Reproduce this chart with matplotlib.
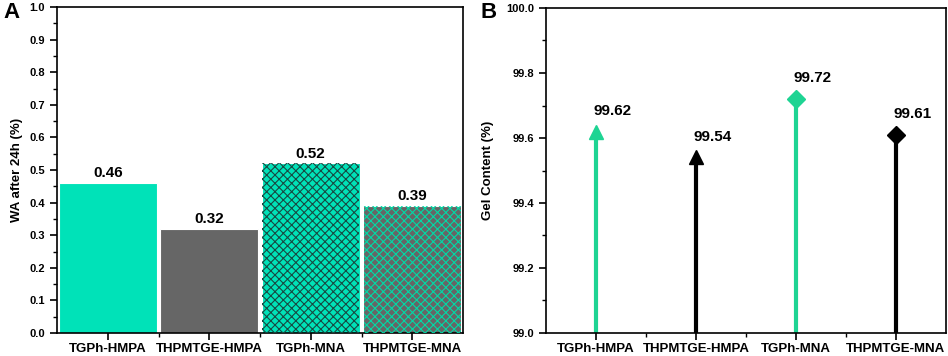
import matplotlib.pyplot as plt
import numpy as np
from matplotlib.ticker import MultipleLocator

plt.rcParams['font.family'] = ['Liberation Sans', 'DejaVu Sans']
plt.rcParams['font.weight'] = 'bold'
plt.rcParams['hatch.linewidth'] = 0.8

# Données
categories = ['TGPh-HMPA', 'THPMTGE-HMPA', 'TGPh-MNA', 'THPMTGE-MNA']
wa_24h = [0.46, 0.32, 0.52, 0.39]
gel_content = [99.62, 99.54, 99.72, 99.61]

bar_colors = ['#00e2b8', '#666666', '#00e2b8', '#666666']
bar_hatch = [None, None, 'xxxx', 'xxxx']
hatch_colors = [None, None, '#174a42', '#00d9a6']
stem_colors = ['#1ed493', '#000000', '#1ed493', '#000000']
stem_markers = ['^', '^', 'D', 'D']

fig = plt.figure(figsize=(9.48, 3.56), dpi=100)
ax1 = fig.add_axes([57/948, 23/356, 406/948, 326/356])
ax2 = fig.add_axes([546/948, 23/356, 400/948, 325/356])

x = np.arange(1, len(categories) + 1)

# Panel A : barres
for i in range(len(categories)):
    ax1.bar(x[i], wa_24h[i], width=0.97, color=bar_colors[i],
            edgecolor='white', linewidth=0.8, zorder=2)
    if bar_hatch[i]:
        ax1.bar(x[i], wa_24h[i], width=0.96, color='none',
                edgecolor=hatch_colors[i], hatch=bar_hatch[i], linewidth=0, zorder=3)
    ax1.text(x[i], wa_24h[i] + 0.008, f"{wa_24h[i]:.2f}", ha='center', va='bottom',
             fontsize=11, fontweight='bold')

ax1.set_xlim(0.5, 4.5)
ax1.set_ylim(0, 1.0)
ax1.yaxis.set_major_locator(MultipleLocator(0.1))
ax1.yaxis.set_minor_locator(MultipleLocator(0.05))
ax1.set_xticks(x)
ax1.set_xticks(x[:-1] + 0.5, minor=True)
ax1.set_xticklabels(categories)
ax1.set_ylabel('WA after 24h (%)', fontsize=9.5, fontweight='bold', labelpad=5)

# Panel B : sucettes
for i in range(len(categories)):
    ax2.vlines(x[i], 99.0, gel_content[i], color=stem_colors[i], linewidth=3, zorder=2)
    ax2.plot(x[i], gel_content[i], marker=stem_markers[i], color=stem_colors[i],
             markersize=10 if stem_markers[i] == '^' else 9, zorder=3, clip_on=False)
    ax2.annotate(f"{gel_content[i]:.2f}", (x[i], gel_content[i]), xytext=(12, 10),
                 textcoords='offset points', ha='center', va='bottom',
                 fontsize=11, fontweight='bold')

ax2.set_xlim(0.5, 4.5)
ax2.set_ylim(99.0, 100.0)
ax2.yaxis.set_major_locator(MultipleLocator(0.2))
ax2.yaxis.set_minor_locator(MultipleLocator(0.1))
ax2.set_xticks(x)
ax2.set_xticks(x[:-1] + 0.5, minor=True)
ax2.set_xticklabels(categories)
ax2.set_ylabel('Gel Content (%)', fontsize=9.5, fontweight='bold', labelpad=9)

fig.text(3/948, 1 - 13/356, 'A', fontsize=16, fontweight='bold', ha='left', va='center')
fig.text(481/948, 1 - 12/356, 'B', fontsize=16, fontweight='bold', ha='left', va='center')

for ax in (ax1, ax2):
    for s in ax.spines.values():
        s.set_linewidth(1.2)
    ax.tick_params(axis='both', which='major', length=5, width=1.2, labelsize=8)
    ax.tick_params(axis='both', which='minor', length=3, width=1.0)
    ax.tick_params(axis='x', labelsize=9.5, pad=2)

fig.savefig('out.png', dpi=100)
